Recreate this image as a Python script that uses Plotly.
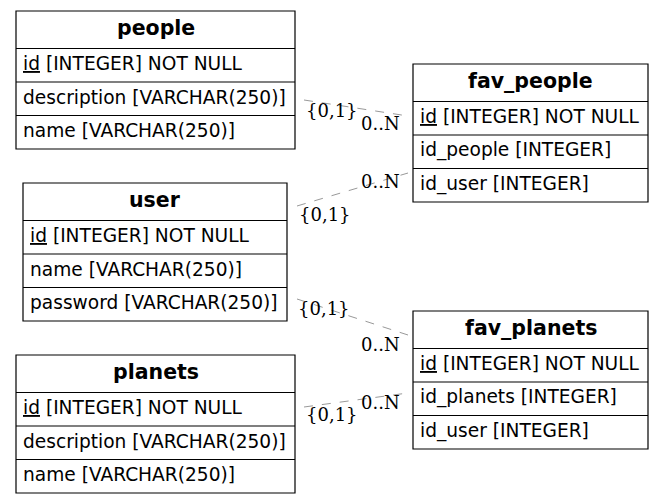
import plotly.graph_objects as go

# tables of the ER diagram
table_names = ["people", "user", "planets", "fav_people", "fav_planets"]
table_columns = [
    ["id [INTEGER] NOT NULL", "description [VARCHAR(250)]", "name [VARCHAR(250)]"],
    ["id [INTEGER] NOT NULL", "name [VARCHAR(250)]", "password [VARCHAR(250)]"],
    ["id [INTEGER] NOT NULL", "description [VARCHAR(250)]", "name [VARCHAR(250)]"],
    ["id [INTEGER] NOT NULL", "id_people [INTEGER]", "id_user [INTEGER]"],
    ["id [INTEGER] NOT NULL", "id_planets [INTEGER]", "id_user [INTEGER]"],
]
primary_keys = ["id", "id", "id", "id", "id"]

# relations: (from table, to table, tail label, head label)
rel_from = ["people", "user", "user", "planets"]
rel_to = ["fav_people", "fav_people", "fav_planets", "fav_planets"]
tail_labels = ["{0,1}", "{0,1}", "{0,1}", "{0,1}"]
head_labels = ["0..N", "0..N", "0..N", "0..N"]

# layout (pixels): box left, top, right
box_pos = {
    "people": (16, 11, 295),
    "user": (23, 183, 287),
    "planets": (16, 355, 295),
    "fav_people": (413, 64, 648),
    "fav_planets": (413, 311, 648),
}
HEAD_H = 37.5
ROW_H = 33.5

# edge geometry: start, end, tail label pos, head label pos
edge_geo = [
    ((304, 100), (408, 116), (332, 110), (380, 123)),
    ((297, 206), (408, 173), (325, 214), (380, 181)),
    ((297, 299), (408, 335), (324, 308), (380, 344)),
    ((304, 407), (408, 393), (332, 414), (380, 402)),
]

# the page body has an 8px margin, so the figure starts at (8, 8)
OFF = 8
W, H = 664, 503

fig = go.Figure()
shapes = []
annotations = []

for name, cols, pk in zip(table_names, table_columns, primary_keys):
    x0, y0, x1 = box_pos[name]
    y1 = y0 + HEAD_H + ROW_H * len(cols)
    shapes.append(dict(type="rect", x0=x0, x1=x1, y0=y0, y1=y1,
                       line=dict(color="black", width=1.2), fillcolor="white", layer="below"))
    annotations.append(dict(x=(x0 + x1) / 2, y=y0 + HEAD_H / 2 - 1.5, text="<b>" + name + "</b>",
                            xanchor="center", yanchor="middle", showarrow=False,
                            font=dict(family="DejaVu Sans", size=20.5, color="black")))
    for i, col in enumerate(cols):
        ry = y0 + HEAD_H + ROW_H * i
        shapes.append(dict(type="line", x0=x0, x1=x1, y0=ry, y1=ry,
                           line=dict(color="black", width=1.2)))
        txt = col
        if col.startswith(pk + " "):
            txt = "<u>" + pk + "</u>" + col[len(pk):]
        annotations.append(dict(x=x0 + 5, y=ry + ROW_H / 2 - 1.5, text=txt,
                                xanchor="left", yanchor="middle", showarrow=False,
                                font=dict(family="DejaVu Sans", size=18.6, color="black")))

for (s, e, tl, hl), tlab, hlab in zip(edge_geo, tail_labels, head_labels):
    fig.add_trace(go.Scatter(x=[s[0], e[0]], y=[s[1], e[1]], mode="lines",
                             line=dict(color="#999999", width=1, dash="dash"),
                             hoverinfo="skip", showlegend=False))
    annotations.append(dict(x=tl[0], y=tl[1], text=tlab, showarrow=False,
                            xanchor="center", yanchor="middle",
                            font=dict(family="DejaVu Serif", size=18, color="black")))
    annotations.append(dict(x=hl[0], y=hl[1], text=hlab, showarrow=False,
                            xanchor="center", yanchor="middle",
                            font=dict(family="DejaVu Serif", size=18, color="black")))

fig.update_layout(
    width=W - OFF, height=H - OFF,
    margin=dict(l=0, r=0, t=0, b=0),
    paper_bgcolor="white", plot_bgcolor="white",
    shapes=shapes, annotations=annotations,
    xaxis=dict(range=[OFF, W], visible=False, fixedrange=True),
    yaxis=dict(range=[H, OFF], visible=False, fixedrange=True),
    showlegend=False,
)

fig.write_html("out.html")
